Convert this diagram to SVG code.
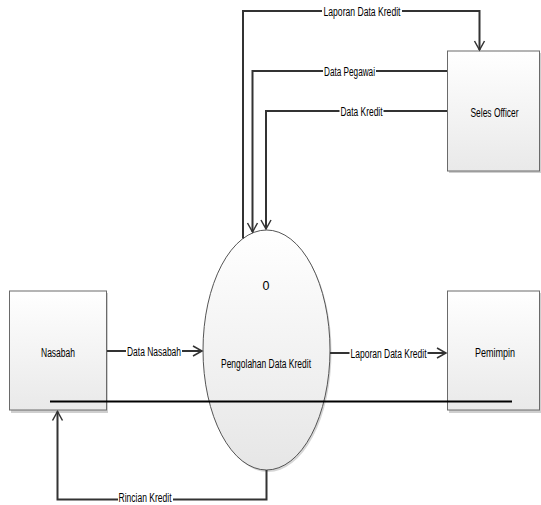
<svg xmlns="http://www.w3.org/2000/svg" width="541" height="505" viewBox="0 0 541 505">
<style>
.lbl{font-family:"Liberation Sans",Arial,sans-serif;font-size:12.5px;fill:#000;text-anchor:middle}
.box{fill:url(#gb);stroke:#6a6a6a;stroke-width:1}
.shadow{fill:#cfcfcf}
.conn{fill:none;stroke:#333;stroke-width:2}
.arr{fill:none;stroke:#333;stroke-width:1.5}
.bg{fill:#fff}
</style>
<defs>
<linearGradient id="gb" x1="0" y1="0" x2="0" y2="1">
<stop offset="0" stop-color="#ffffff"/>
<stop offset="1" stop-color="#e9e9e9"/>
</linearGradient>
<linearGradient id="ge" x1="0" y1="0" x2="0" y2="1">
<stop offset="0" stop-color="#ffffff"/>
<stop offset="1" stop-color="#e6e6e6"/>
</linearGradient>
</defs>
<rect width="541" height="505" fill="#fff"/>

<g id="node-seles-officer">
<rect class="shadow" x="449" y="53" width="92" height="120"/>
<rect class="box" x="447.5" y="51" width="92" height="120"/>
<text class="lbl" x="494.5" y="116.5" textLength="48" lengthAdjust="spacingAndGlyphs">Seles Officer</text>
</g>

<g id="node-nasabah">
<rect class="shadow" x="11" y="293" width="97" height="120"/>
<rect class="box" x="9.5" y="291" width="97" height="119"/>
<text class="lbl" x="58" y="357" textLength="34" lengthAdjust="spacingAndGlyphs">Nasabah</text>
</g>

<g id="node-pemimpin">
<rect class="shadow" x="449" y="293" width="92" height="120"/>
<rect class="box" x="447.5" y="291" width="92" height="119"/>
<text class="lbl" x="495" y="357" textLength="40" lengthAdjust="spacingAndGlyphs">Pemimpin</text>
</g>

<g id="node-process">
<ellipse cx="268" cy="352" rx="63.5" ry="120" fill="#d6d6d6"/>
<ellipse cx="266.5" cy="350" rx="63.5" ry="120" fill="url(#ge)" stroke="#555" stroke-width="1"/>
<text class="lbl" x="266" y="290">0</text>
<text class="lbl" x="266" y="367.5" textLength="90" lengthAdjust="spacingAndGlyphs">Pengolahan Data Kredit</text>
</g>

<g id="connectors">
<!-- Laporan Data Kredit to Seles Officer -->
<polyline class="conn" points="243,238.5 243,11 479.5,11 479.5,50"/>
<polyline class="arr" points="474.5,41 479.5,50 484.5,41"/>
<rect class="bg" x="322" y="4" width="80" height="14"/>
<text class="lbl" x="362" y="15.5" textLength="77" lengthAdjust="spacingAndGlyphs">Laporan Data Kredit</text>

<!-- Data Pegawai -->
<polyline class="conn" points="447,71 252.5,71 252.5,232"/>
<polyline class="arr" points="247.5,223 252.5,232 257.5,223"/>
<rect class="bg" x="323" y="64" width="53" height="14"/>
<text class="lbl" x="349.5" y="75.5" textLength="51" lengthAdjust="spacingAndGlyphs">Data Pegawai</text>

<!-- Data Kredit -->
<polyline class="conn" points="447,111 266,111 266,229"/>
<polyline class="arr" points="261,220 266,229 271,220"/>
<rect class="bg" x="339.5" y="104" width="44" height="14"/>
<text class="lbl" x="361.5" y="115.5" textLength="42" lengthAdjust="spacingAndGlyphs">Data Kredit</text>

<!-- Data Nasabah -->
<polyline class="conn" points="107,351 202,351"/>
<polyline class="arr" points="193,346 202,351 193,356"/>
<rect class="bg" x="126" y="344" width="56" height="14"/>
<text class="lbl" x="154" y="355.5" textLength="54" lengthAdjust="spacingAndGlyphs">Data Nasabah</text>

<!-- Laporan Data Kredit to Pemimpin -->
<polyline class="conn" points="330,353 446,353"/>
<polyline class="arr" points="437,348 446,353 437,358"/>
<rect class="bg" x="349.5" y="346" width="78" height="14"/>
<text class="lbl" x="388.5" y="357.5" textLength="76" lengthAdjust="spacingAndGlyphs">Laporan Data Kredit</text>

<!-- Rincian Kredit -->
<polyline class="conn" points="266.5,470 266.5,499.5 57.5,499.5 57.5,411.5"/>
<polyline class="arr" points="52.5,420.5 57.5,411.5 62.5,420.5"/>
<rect class="bg" x="118" y="493" width="55" height="12"/>
<text class="lbl" x="145" y="502" textLength="53" lengthAdjust="spacingAndGlyphs">Rincian Kredit</text>

<!-- black line -->
<line x1="50" y1="401.5" x2="512" y2="401.5" stroke="#000" stroke-width="2"/>
</g>
</svg>
